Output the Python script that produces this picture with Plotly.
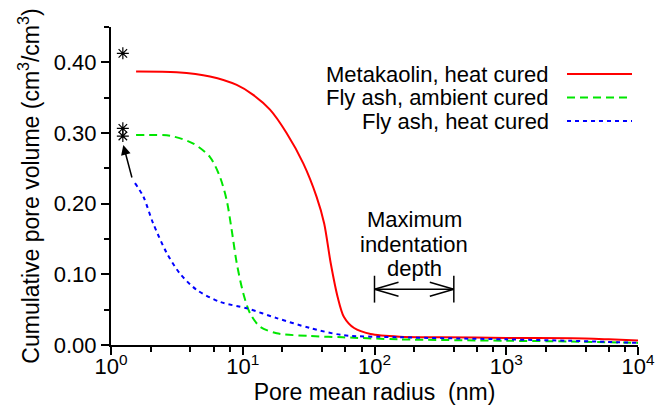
import math
import plotly.graph_objects as go

# ---- data ----
series_names = ["Metakaolin, heat cured", "Fly ash, ambient cured", "Fly ash, heat cured"]

red_r = [1.55, 3.15, 5.64, 9.0, 12.0, 16.1, 21.5, 28.8, 36.3, 41.5, 46.5, 52.5, 58.5, 70.0, 93.3, 155, 316, 1000, 3160, 6000, 10000]
red_v = [0.387, 0.386, 0.380, 0.368, 0.354, 0.333, 0.300, 0.257, 0.210, 0.172, 0.116, 0.068, 0.040, 0.024, 0.0156, 0.0118, 0.011, 0.0100, 0.0095, 0.008, 0.0065]

green_r = [1.55, 2.81, 4.22, 5.64, 6.71, 7.55, 8.24, 9.0, 10.1, 11.35, 13.5, 18.1, 32.4, 57.5, 155, 1000, 3000, 10000]
green_v = [0.297, 0.296, 0.285, 0.266, 0.238, 0.205, 0.163, 0.116, 0.073, 0.045, 0.026, 0.0166, 0.0127, 0.0109, 0.008, 0.006, 0.005, 0.003]

blue_r = [1.52, 1.76, 2.09, 2.65, 3.34, 4.47, 6.71, 10.7, 18.1, 32.4, 57.5, 155, 1000, 3000, 10000]
blue_v = [0.229, 0.210, 0.172, 0.130, 0.101, 0.078, 0.061, 0.052, 0.038, 0.024, 0.014, 0.011, 0.008, 0.006, 0.003]

star_r = [1.23, 1.23, 1.23]
star_v = [0.4127, 0.3066, 0.2957]

x_tickvals = [1, 10, 100, 1000, 10000]
x_ticktext = ["10<sup>0</sup>", "10<sup>1</sup>", "10<sup>2</sup>", "10<sup>3</sup>", "10<sup>4</sup>"]
x_minor = [m * 10 ** d for d in range(4) for m in (2, 4, 6, 8)]

indent_lines = ["Maximum", "indentation", "depth"]
indent_range = [100, 400]   # nm, maximum indentation depth
indent_level = 0.079

colors = ["#ff0000", "#00e600", "#0000ff"]
dashes = ["solid", "8px,5px", "4px,4px"]

FONT = "Liberation Sans, Arial, sans-serif"
TXT = 22

fig = go.Figure()
for name, r, v, c, d in zip(series_names, [red_r, green_r, blue_r], [red_v, green_v, blue_v], colors, dashes):
    fig.add_trace(go.Scatter(x=r, y=v, mode="lines", name=name,
                             line=dict(color=c, width=2, dash=d, shape="spline", smoothing=0.8),
                             showlegend=False))

fig.add_trace(go.Scatter(x=star_r, y=star_v, mode="markers", showlegend=False,
                         marker=dict(symbol="asterisk-open", size=10, color="black",
                                     line=dict(color="black", width=1.2))))

# ---- custom legend (text left, line sample right) ----
W, H = 672, 409
L, R, T, B = 111, 34, 27, 64
pw, ph = W - L - R, H - T - B

def px2paper_x(x):
    return (x - L) / pw

def px2paper_y(y):
    return (H - B - y) / ph

annotations = []
shapes = []
leg_y = [74, 97.5, 121]
for name, c, d, yy in zip(series_names, colors, dashes, leg_y):
    annotations.append(dict(xref="paper", yref="paper", x=px2paper_x(551), y=px2paper_y(yy),
                            text=name, showarrow=False, xanchor="right", yanchor="middle",
                            font=dict(family=FONT, size=TXT, color="black")))
    shapes.append(dict(type="line", xref="paper", yref="paper",
                       x0=px2paper_x(567), x1=px2paper_x(632), y0=px2paper_y(yy), y1=px2paper_y(yy),
                       line=dict(color=c, width=2, dash=d)))

# ---- maximum indentation depth annotation ----
lx0 = math.log10(indent_range[0]) / 4
lx1 = math.log10(indent_range[1]) / 4
mid = (lx0 + lx1) / 2
for txt, yy in zip(indent_lines, [219.5, 244, 268.5]):
    annotations.append(dict(xref="paper", yref="paper", x=mid, y=px2paper_y(yy),
                            text=txt, showarrow=False, xanchor="center", yanchor="middle",
                            font=dict(family=FONT, size=TXT, color="black")))
yl = indent_level
dy_bar = 0.019
head_dx = 24 / pw
head_dy = 7 / 706.75
lw = dict(color="black", width=1.5)
shapes += [
    dict(type="line", xref="paper", yref="y", x0=lx0, x1=lx1, y0=yl, y1=yl, line=lw),
    dict(type="line", xref="paper", yref="y", x0=lx0, x1=lx0, y0=yl - dy_bar, y1=yl + dy_bar, line=lw),
    dict(type="line", xref="paper", yref="y", x0=lx1, x1=lx1, y0=yl - dy_bar, y1=yl + dy_bar, line=lw),
    dict(type="line", xref="paper", yref="y", x0=lx0, x1=lx0 + head_dx, y0=yl, y1=yl + head_dy, line=lw),
    dict(type="line", xref="paper", yref="y", x0=lx0, x1=lx0 + head_dx, y0=yl, y1=yl - head_dy, line=lw),
    dict(type="line", xref="paper", yref="y", x0=lx1, x1=lx1 - head_dx, y0=yl, y1=yl + head_dy, line=lw),
    dict(type="line", xref="paper", yref="y", x0=lx1, x1=lx1 - head_dx, y0=yl, y1=yl - head_dy, line=lw),
]

# ---- arrow pointing to asterisks ----
annotations.append(dict(xref="paper", yref="y", x=math.log10(1.24) / 4, y=0.283,
                        ax=9, ay=34, axref="pixel", ayref="pixel", text="", showarrow=True,
                        arrowhead=2, arrowsize=1.3, arrowwidth=1.5, arrowcolor="black"))

fig.update_layout(
    width=W, height=H,
    margin=dict(l=L, r=R, t=T, b=B, autoexpand=False),
    plot_bgcolor="white", paper_bgcolor="white",
    font=dict(family=FONT, size=22, color="black"),
    annotations=annotations, shapes=shapes, showlegend=False,
)
fig.update_xaxes(type="log", range=[0, 4], showline=True, linewidth=2, linecolor="black",
                 ticks="outside", ticklen=8, tickwidth=2, tickcolor="black",
                 tickmode="array", tickvals=x_tickvals, ticktext=x_ticktext,
                 ticklabelstandoff=-7,
                 minor=dict(tickmode="array", tickvals=x_minor, ticks="outside", ticklen=5,
                            tickwidth=1.5, tickcolor="black", showgrid=False),
                 showgrid=False, zeroline=False, automargin=False,
                 tickfont=dict(family=FONT, size=22),
                 title=dict(text="Pore mean radius\u00a0 (nm)", font=dict(family=FONT, size=23), standoff=4))
fig.update_yaxes(range=[0, 0.45], showline=True, linewidth=2, linecolor="black",
                 ticks="outside", ticklen=8, tickwidth=2, tickcolor="black",
                 dtick=0.1, tick0=0, tickformat=".2f",
                 minor=dict(dtick=0.05, tick0=0, ticks="outside", ticklen=5, tickwidth=1.5,
                            tickcolor="black", showgrid=False),
                 showgrid=False, zeroline=False, automargin=False,
                 tickfont=dict(family=FONT, size=22),
                 title=dict(text="Cumulative pore volume (cm<sup>3</sup>/cm<sup>3</sup>)",
                            font=dict(family=FONT, size=23), standoff=8))

fig.write_html("out.html")
